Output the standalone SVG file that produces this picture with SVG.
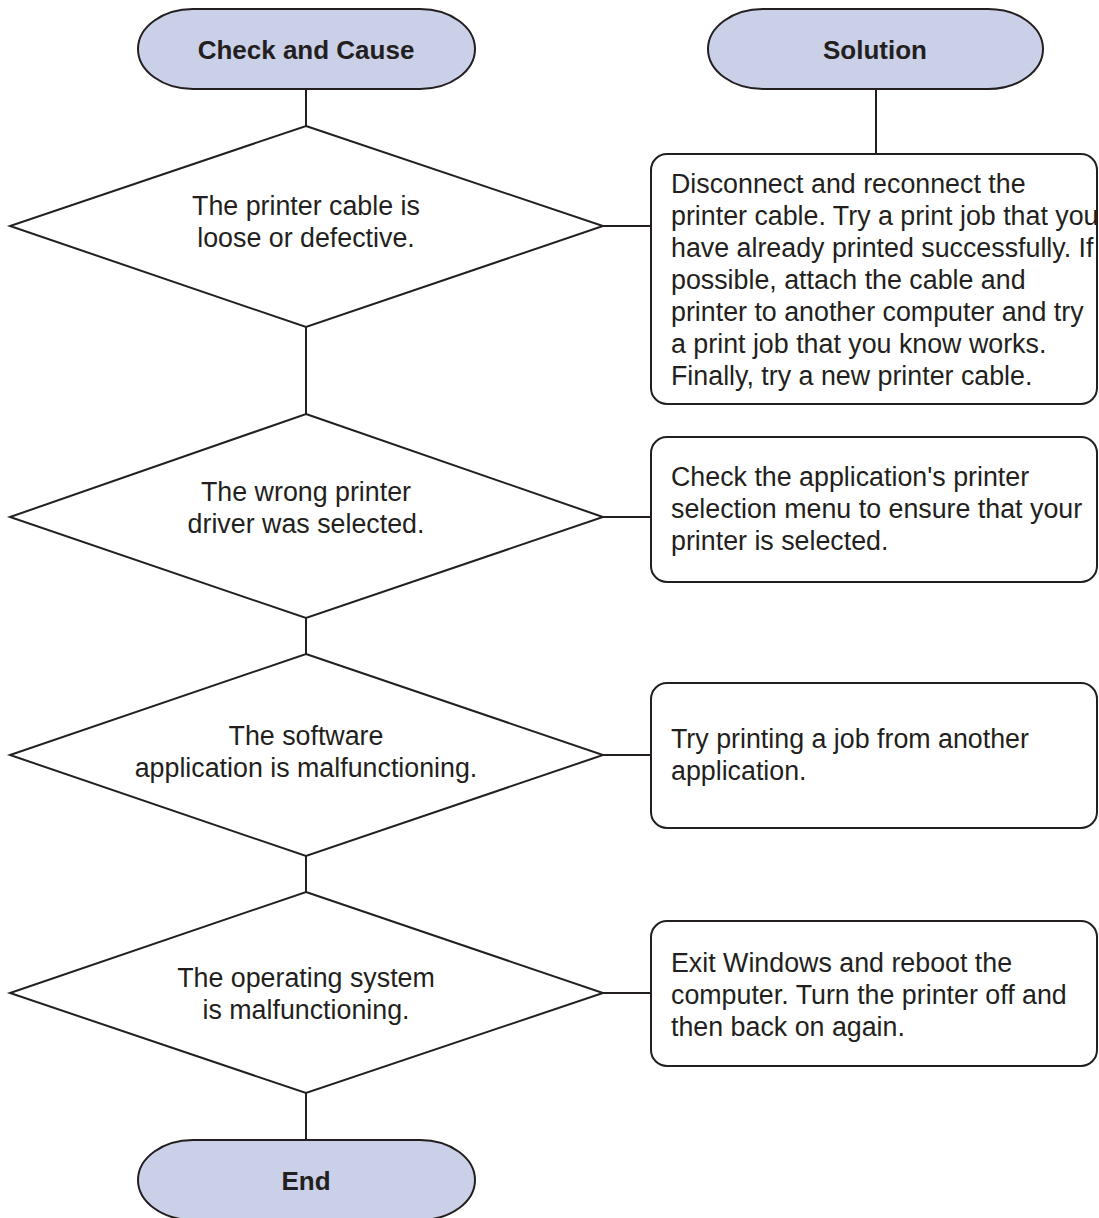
<svg xmlns="http://www.w3.org/2000/svg" width="1099" height="1218" viewBox="0 0 1099 1218">
<style>
.term{fill:#CAD0E8;stroke:#231F20;stroke-width:2}
.dia{fill:#FFFFFF;stroke:#231F20;stroke-width:2}
.box{fill:#FFFFFF;stroke:#231F20;stroke-width:2}
.con{fill:none;stroke:#231F20;stroke-width:2}
text{font-family:"Liberation Sans",Arial,sans-serif;font-size:26.8px;fill:#231F20}
.b{font-weight:bold;font-size:26px}
.c{text-anchor:middle}
</style>
<rect width="1099" height="1218" fill="#FFFFFF"/>
<g id="connectors">
<line class="con" x1="306" y1="89" x2="306" y2="126"/>
<line class="con" x1="876" y1="89" x2="876" y2="154"/>
<line class="con" x1="306" y1="327" x2="306" y2="414"/>
<line class="con" x1="306" y1="618" x2="306" y2="654"/>
<line class="con" x1="306" y1="856" x2="306" y2="892"/>
<line class="con" x1="306" y1="1093" x2="306" y2="1140"/>
<line class="con" x1="603" y1="226" x2="651" y2="226"/>
<line class="con" x1="603" y1="517" x2="651" y2="517"/>
<line class="con" x1="603" y1="755" x2="651" y2="755"/>
<line class="con" x1="603" y1="993" x2="651" y2="993"/>
</g>
<g id="check-and-cause">
<rect class="term" x="138" y="9" width="337" height="80" rx="55" ry="40"/>
<text class="b c" x="306" y="59">Check and Cause</text>
</g>
<g id="solution">
<rect class="term" x="708" y="9" width="335" height="80" rx="55" ry="40"/>
<text class="b c" x="875" y="59">Solution</text>
</g>
<g id="cause1">
<polygon class="dia" points="306,126 603,226 306,327 10,226"/>
<text class="c" x="306" y="215">The printer cable is</text>
<text class="c" x="306" y="247">loose or defective.</text>
</g>
<g id="solution1">
<rect class="box" x="651" y="154" width="446" height="250" rx="16"/>
<text x="671" y="193">Disconnect and reconnect the</text>
<text x="671" y="225">printer cable. Try a print job that you</text>
<text x="671" y="257">have already printed successfully. If</text>
<text x="671" y="289">possible, attach the cable and</text>
<text x="671" y="321">printer to another computer and try</text>
<text x="671" y="353">a print job that you know works.</text>
<text x="671" y="385">Finally, try a new printer cable.</text>
</g>
<g id="cause2">
<polygon class="dia" points="306,414 603,517 306,618 10,517"/>
<text class="c" x="306" y="501">The wrong printer</text>
<text class="c" x="306" y="533">driver was selected.</text>
</g>
<g id="solution2">
<rect class="box" x="651" y="437" width="446" height="145" rx="16"/>
<text x="671" y="486">Check the application's printer</text>
<text x="671" y="518">selection menu to ensure that your</text>
<text x="671" y="550">printer is selected.</text>
</g>
<g id="cause3">
<polygon class="dia" points="306,654 603,755 306,856 10,755"/>
<text class="c" x="306" y="745">The software</text>
<text class="c" x="306" y="777">application is malfunctioning.</text>
</g>
<g id="solution3">
<rect class="box" x="651" y="683" width="446" height="145" rx="16"/>
<text x="671" y="748">Try printing a job from another</text>
<text x="671" y="780">application.</text>
</g>
<g id="cause4">
<polygon class="dia" points="306,892 603,993 306,1093 10,993"/>
<text class="c" x="306" y="987">The operating system</text>
<text class="c" x="306" y="1019">is malfunctioning.</text>
</g>
<g id="solution4">
<rect class="box" x="651" y="921" width="446" height="145" rx="16"/>
<text x="671" y="972">Exit Windows and reboot the</text>
<text x="671" y="1004">computer. Turn the printer off and</text>
<text x="671" y="1036">then back on again.</text>
</g>
<g id="end">
<rect class="term" x="138" y="1140" width="337" height="80" rx="55" ry="40"/>
<text class="b c" x="306" y="1190">End</text>
</g>
</svg>
